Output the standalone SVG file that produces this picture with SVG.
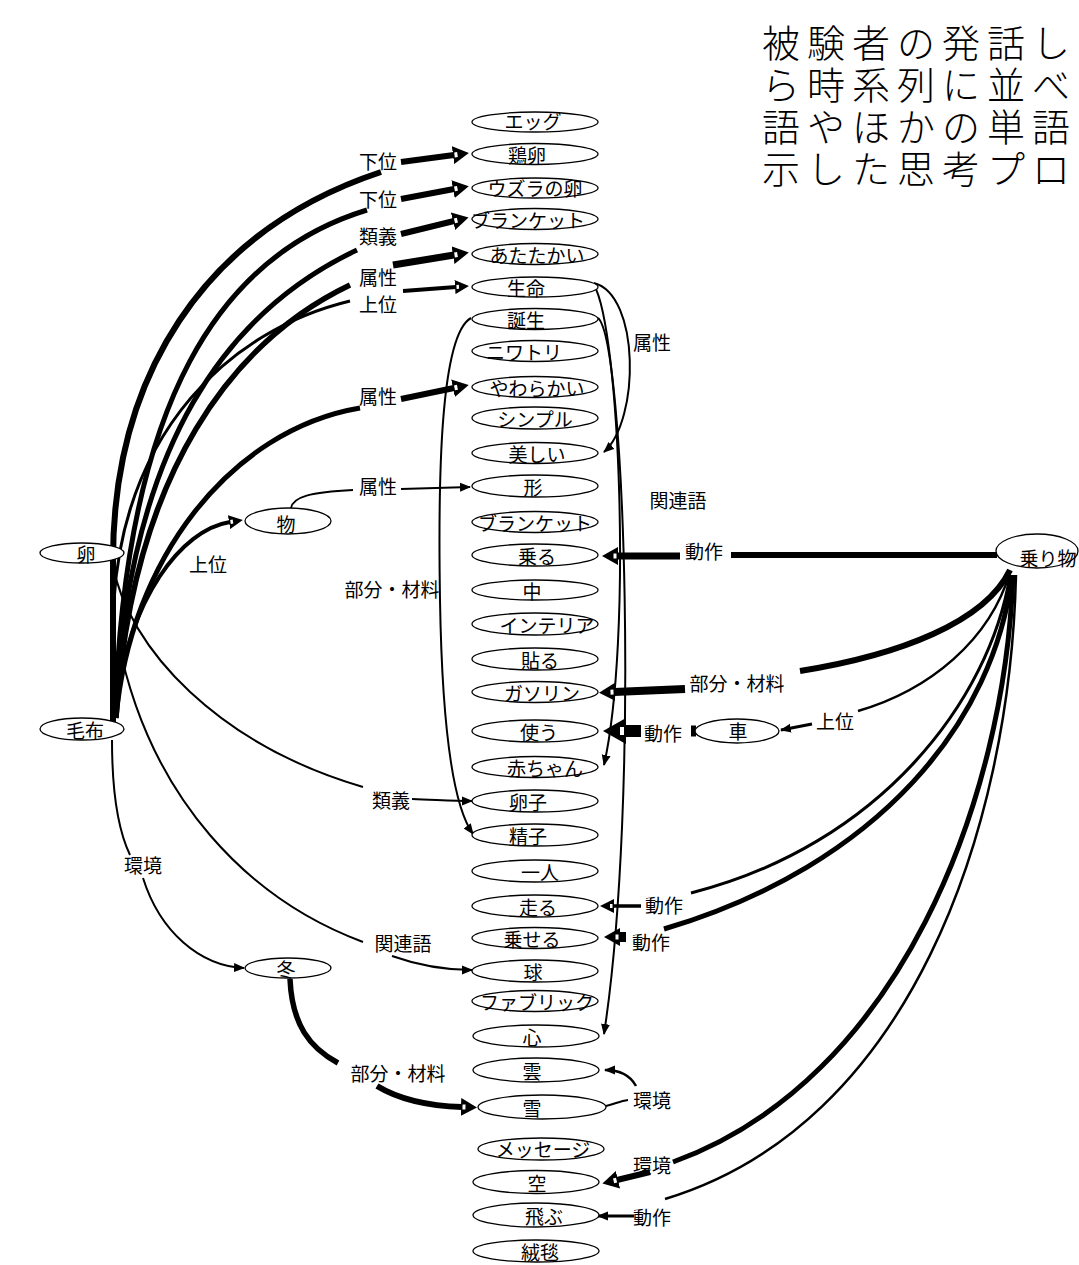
<svg xmlns="http://www.w3.org/2000/svg" width="1079" height="1265" viewBox="0 0 1079 1265">
<style>
.n ellipse{fill:#fff;stroke:#000;stroke-width:1.3}
.n text{font-family:"Noto Sans CJK JP","Noto Sans CJK SC",sans-serif;font-size:19px;text-anchor:middle;fill:#000}
.lb{font-family:"Noto Sans CJK JP","Noto Sans CJK SC",sans-serif;font-size:19px;text-anchor:middle;fill:#000}
.e path{fill:none;stroke:#000;stroke-linecap:butt}
.t{font-family:"Liberation Serif","Noto Sans CJK JP","Noto Sans CJK SC",serif;font-size:38px;font-weight:300;letter-spacing:7px;fill:#000}
</style>
<defs>
<marker id="ms" markerUnits="userSpaceOnUse" markerWidth="11" markerHeight="10" refX="10" refY="5" orient="auto"><path d="M0,0.5 L11,5 L0,9.5 z" fill="#000"/></marker>
<marker id="mm" markerUnits="userSpaceOnUse" markerWidth="14" markerHeight="14" refX="1" refY="7" orient="auto"><path d="M0,0 L14,7 L0,14 z" fill="#000"/><rect x="1.5" y="5" width="2.5" height="4" fill="#fff"/></marker>
<marker id="mb" markerUnits="userSpaceOnUse" markerWidth="16" markerHeight="18" refX="1" refY="9" orient="auto"><path d="M0,0 L16,9 L0,18 z" fill="#000"/><rect x="1.5" y="6.5" width="3" height="5" fill="#fff"/></marker>
<marker id="mx" markerUnits="userSpaceOnUse" markerWidth="23" markerHeight="26" refX="1" refY="13" orient="auto"><path d="M0,0 L23,13 L0,26 z" fill="#000"/><rect x="2" y="9" width="4" height="8" fill="#fff"/></marker>
</defs>

<g id="title">
<text class="t" x="762" y="57">被験者の発話し</text>
<text class="t" x="762" y="99">ら時系列に並べ</text>
<text class="t" x="762" y="141">語やほかの単語</text>
<text class="t" x="762" y="183">示した思考プロ</text>
</g>

<g id="connectors" class="e">
<!-- left arcs -->
<path d="M113,722 L113,560 C113,380 200,232 381,172" stroke-width="6"/>
<path d="M115,718 C125,400 220,255 367,210" stroke-width="5"/>
<path d="M115,718 C128,440 230,310 357,250" stroke-width="5"/>
<path d="M116,718 C132,470 235,340 350,285" stroke-width="5.5"/>
<path d="M114,600 C125,430 230,330 350,301" stroke-width="3"/>
<path d="M116,718 C130,560 230,430 360,408" stroke-width="5"/>
<path d="M117,700 C130,600 180,530 230,522" stroke-width="4" marker-end="url(#mm)"/>
<path d="M291,508 C293,497 310,492 353,490" stroke-width="1.8"/>
<path d="M112,562 C128,650 220,745 363,787" stroke-width="2"/>
<path d="M118,640 C150,800 250,900 363,942" stroke-width="2"/>
<path d="M112,740 C112,790 118,830 130,855" stroke-width="2"/>
<path d="M143,878 C160,932 200,966 244,968" stroke-width="2" marker-end="url(#ms)"/>
<path d="M290,979 C292,1025 310,1048 338,1063" stroke-width="5.5"/>
<!-- label to target, left -->
<path d="M401,162 L454,155" stroke-width="6" marker-end="url(#mb)"/>
<path d="M401,199 L454,189" stroke-width="6" marker-end="url(#mb)"/>
<path d="M401,234 L454,221" stroke-width="6" marker-end="url(#mb)"/>
<path d="M393,265 L454,255" stroke-width="7" marker-end="url(#mb)"/>
<path d="M403,291 L456,287" stroke-width="4" marker-end="url(#mm)"/>
<path d="M401,399 L454,388" stroke-width="6" marker-end="url(#mb)"/>
<path d="M401,489 L470,487" stroke-width="1.8" marker-end="url(#ms)"/>
<path d="M412,799 C440,800 455,801 472,801" stroke-width="2" marker-end="url(#ms)"/>
<path d="M392,956 C420,966 445,970 472,970" stroke-width="2" marker-end="url(#ms)"/>
<path d="M471,318 C440,335 438,480 440,600 C442,720 452,805 473,834" stroke-width="2" marker-end="url(#ms)"/>
<path d="M377,1086 C400,1100 430,1106 462,1107" stroke-width="6" marker-end="url(#mb)"/>
<!-- right column -->
<path d="M594,283 C640,295 640,420 604,452" stroke-width="2" marker-end="url(#ms)"/>
<path d="M594,285 C620,330 632,640 604,765" stroke-width="2" marker-end="url(#ms)"/>
<path d="M598,318 C625,340 640,800 604,1034" stroke-width="2" marker-end="url(#ms)"/>
<path d="M606,1106 C615,1104 620,1101 628,1100" stroke-width="2"/>
<path d="M636,1086 C630,1075 620,1070 605,1070" stroke-width="2.5" marker-end="url(#ms)"/>
<!-- right side from 乗り物 -->
<path d="M997,555 L731,555" stroke-width="6"/>
<path d="M680,556 L617,556" stroke-width="7" marker-end="url(#mb)"/>
<path d="M1010,570 C985,622 900,655 800,671" stroke-width="6"/>
<path d="M685,689 L614,692" stroke-width="8" marker-end="url(#mb)"/>
<path d="M1010,572 C990,640 930,690 858,711" stroke-width="2.5"/>
<path d="M812,724 L781,730" stroke-width="3" marker-end="url(#ms)"/>
<path d="M696,731 L691,731" stroke-width="11"/>
<path d="M641,731 L625,731" stroke-width="12" marker-end="url(#mx)"/>
<path d="M1010,575 C990,700 880,845 691,893" stroke-width="3"/>
<path d="M641,906 L613,906" stroke-width="3.5" marker-end="url(#mm)"/>
<path d="M1012,575 C995,720 880,865 664,929" stroke-width="5"/>
<path d="M626,937 L619,937" stroke-width="10" marker-end="url(#mb)"/>
<path d="M1013,575 C1005,800 900,1080 673,1162" stroke-width="5"/>
<path d="M650,1172 L617,1180" stroke-width="6" marker-end="url(#mb)"/>
<path d="M1016,575 C1010,830 910,1125 665,1199" stroke-width="2.5"/>
<path d="M634,1216 L598,1216" stroke-width="3" marker-end="url(#ms)"/>
</g>

<g id="edge-labels">
<text class="lb" x="378" y="169">下位</text>
<text class="lb" x="378" y="207">下位</text>
<text class="lb" x="378" y="244">類義</text>
<text class="lb" x="378" y="285">属性</text>
<text class="lb" x="378" y="312">上位</text>
<text class="lb" x="378" y="404">属性</text>
<text class="lb" x="378" y="494">属性</text>
<text class="lb" x="392" y="597">部分・材料</text>
<text class="lb" x="208" y="572">上位</text>
<text class="lb" x="143" y="873">環境</text>
<text class="lb" x="391" y="808">類義</text>
<text class="lb" x="403" y="951">関連語</text>
<text class="lb" x="398" y="1081">部分・材料</text>
<text class="lb" x="652" y="350">属性</text>
<text class="lb" x="678" y="508">関連語</text>
<text class="lb" x="704" y="559">動作</text>
<text class="lb" x="737" y="691">部分・材料</text>
<text class="lb" x="663" y="741">動作</text>
<text class="lb" x="835" y="729">上位</text>
<text class="lb" x="664" y="913">動作</text>
<text class="lb" x="651" y="950">動作</text>
<text class="lb" x="652" y="1108">環境</text>
<text class="lb" x="652" y="1173">環境</text>
<text class="lb" x="652" y="1225">動作</text>
</g>

<g id="nodes" class="n">
<g id="n-tamago"><ellipse cx="82" cy="553" rx="42" ry="10"/><text x="86" y="562">卵</text></g>
<g id="n-moufu"><ellipse cx="82" cy="729" rx="42" ry="11"/><text x="85" y="738">毛布</text></g>
<g id="n-mono"><ellipse cx="288" cy="521" rx="43" ry="13"/><text x="286" y="532">物</text></g>
<g id="n-fuyu"><ellipse cx="288" cy="968" rx="43" ry="10"/><text x="286" y="977">冬</text></g>
<g id="n-kuruma"><ellipse cx="737" cy="731" rx="42" ry="12"/><text x="738" y="739">車</text></g>
<g id="n-norimono"><ellipse cx="1037" cy="551" rx="41" ry="17"/><text x="1048" y="566">乗り物</text></g>
<g id="n-egg"><ellipse cx="535" cy="122" rx="63" ry="10"/><text x="533" y="129">エッグ</text></g>
<g id="n-keiran"><ellipse cx="535" cy="154" rx="63" ry="10.5"/><text x="527" y="163">鶏卵</text></g>
<g id="n-uzura"><ellipse cx="535" cy="188" rx="63" ry="10"/><text x="535" y="196">ウズラの卵</text></g>
<g id="n-blanket1"><ellipse cx="535" cy="219" rx="63" ry="10.5"/><text x="528" y="228">ブランケット</text></g>
<g id="n-atatakai"><ellipse cx="535" cy="254" rx="63" ry="10.5"/><text x="537" y="263">あたたかい</text></g>
<g id="n-seimei"><ellipse cx="535" cy="287" rx="63" ry="10"/><text x="526" y="296">生命</text></g>
<g id="n-tanjou"><ellipse cx="535" cy="319" rx="63" ry="10.5"/><text x="526" y="328">誕生</text></g>
<g id="n-niwatori"><ellipse cx="535" cy="351" rx="63" ry="10.5"/><text x="524" y="360">ニワトリ</text></g>
<g id="n-yawarakai"><ellipse cx="535" cy="387" rx="63" ry="10.5"/><text x="537" y="396">やわらかい</text></g>
<g id="n-simple"><ellipse cx="535" cy="418" rx="63" ry="11"/><text x="535" y="427">シンプル</text></g>
<g id="n-utsukushii"><ellipse cx="535" cy="453" rx="63" ry="10.5"/><text x="537" y="462">美しい</text></g>
<g id="n-katachi"><ellipse cx="535" cy="486" rx="63" ry="11"/><text x="533" y="495">形</text></g>
<g id="n-blanket2"><ellipse cx="535" cy="522" rx="63" ry="10.5"/><text x="535" y="531">ブランケット</text></g>
<g id="n-noru"><ellipse cx="535" cy="555" rx="63" ry="11"/><text x="537" y="564">乗る</text></g>
<g id="n-naka"><ellipse cx="535" cy="590" rx="63" ry="10"/><text x="532" y="599">中</text></g>
<g id="n-interior"><ellipse cx="535" cy="624" rx="63" ry="11"/><text x="547" y="633">インテリア</text></g>
<g id="n-haru"><ellipse cx="535" cy="659" rx="63" ry="11"/><text x="540" y="668">貼る</text></g>
<g id="n-gasoline"><ellipse cx="535" cy="692" rx="63" ry="10.5"/><text x="542" y="701">ガソリン</text></g>
<g id="n-tsukau"><ellipse cx="535" cy="731" rx="63" ry="11"/><text x="539" y="740">使う</text></g>
<g id="n-akachan"><ellipse cx="535" cy="767" rx="63" ry="10.5"/><text x="545" y="776">赤ちゃん</text></g>
<g id="n-ranshi"><ellipse cx="535" cy="801" rx="63" ry="11"/><text x="528" y="810">卵子</text></g>
<g id="n-seishi"><ellipse cx="535" cy="835" rx="63" ry="11"/><text x="528" y="844">精子</text></g>
<g id="n-hitori"><ellipse cx="535" cy="871" rx="63" ry="11"/><text x="540" y="880">一人</text></g>
<g id="n-hashiru"><ellipse cx="535" cy="906" rx="63" ry="11"/><text x="538" y="915">走る</text></g>
<g id="n-noseru"><ellipse cx="535" cy="938" rx="63" ry="10.5"/><text x="532" y="947">乗せる</text></g>
<g id="n-kyuu"><ellipse cx="535" cy="971" rx="63" ry="11"/><text x="533" y="980">球</text></g>
<g id="n-fabric"><ellipse cx="535" cy="1001" rx="63" ry="10.5"/><text x="537" y="1010">ファブリック</text></g>
<g id="n-kokoro"><ellipse cx="536" cy="1036" rx="63" ry="11"/><text x="532" y="1045">心</text></g>
<g id="n-kumo"><ellipse cx="536" cy="1070" rx="63" ry="12"/><text x="532" y="1079">雲</text></g>
<g id="n-yuki"><ellipse cx="542" cy="1107" rx="64" ry="12"/><text x="532" y="1116">雪</text></g>
<g id="n-message"><ellipse cx="541" cy="1149" rx="63" ry="11"/><text x="543" y="1157">メッセージ</text></g>
<g id="n-sora"><ellipse cx="536" cy="1182" rx="63" ry="11.5"/><text x="537" y="1191">空</text></g>
<g id="n-tobu"><ellipse cx="536" cy="1215" rx="63" ry="12"/><text x="544" y="1224">飛ぶ</text></g>
<g id="n-juutan"><ellipse cx="536" cy="1251" rx="63" ry="11"/><text x="540" y="1260">絨毯</text></g>
</g>
</svg>
